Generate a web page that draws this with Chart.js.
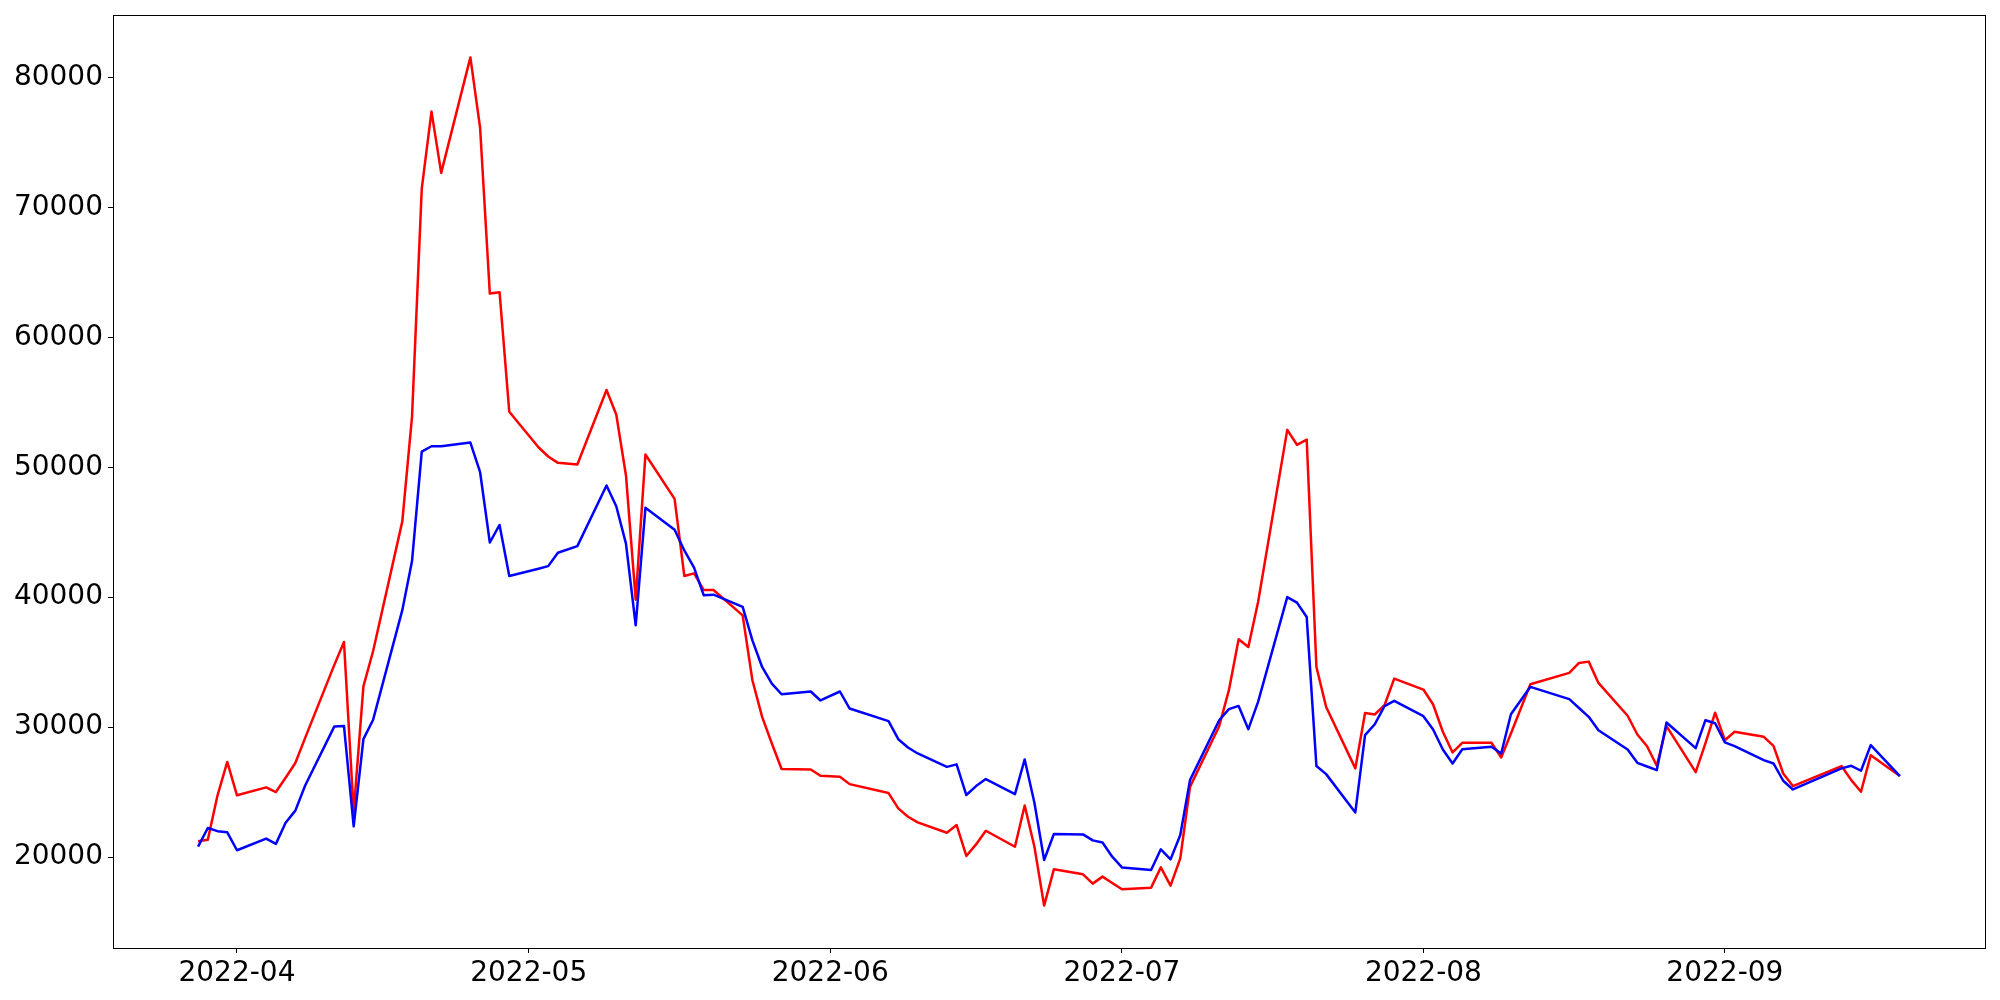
<!DOCTYPE html>
<html>
<head>
<meta charset="utf-8">
<script src="https://cdn.jsdelivr.net/npm/chart.js@4.4.1/dist/chart.umd.min.js"></script>
<style>
  html, body { margin: 0; padding: 0; background: #fff; }
  #wrap { width: 2000px; height: 1000px; }
</style>
</head>
<body>
<div id="wrap"><canvas id="chart" width="2000" height="1000"></canvas></div>
<script>
const dates = [
  '2022-03-28', '2022-03-29', '2022-03-30', '2022-03-31', '2022-04-01',
  '2022-04-04', '2022-04-05', '2022-04-06', '2022-04-07', '2022-04-08',
  '2022-04-11', '2022-04-12', '2022-04-13', '2022-04-14', '2022-04-15',
  '2022-04-18', '2022-04-19', '2022-04-20', '2022-04-21', '2022-04-22',
  '2022-04-25', '2022-04-26', '2022-04-27', '2022-04-28', '2022-04-29',
  '2022-05-02', '2022-05-03', '2022-05-04', '2022-05-06',
  '2022-05-09', '2022-05-10', '2022-05-11', '2022-05-12', '2022-05-13',
  '2022-05-16', '2022-05-17', '2022-05-18', '2022-05-19', '2022-05-20',
  '2022-05-23', '2022-05-24', '2022-05-25', '2022-05-26', '2022-05-27',
  '2022-05-30', '2022-05-31', '2022-06-02', '2022-06-03',
  '2022-06-07', '2022-06-08', '2022-06-09', '2022-06-10',
  '2022-06-13', '2022-06-14', '2022-06-15', '2022-06-16', '2022-06-17',
  '2022-06-20', '2022-06-21', '2022-06-22', '2022-06-23', '2022-06-24',
  '2022-06-27', '2022-06-28', '2022-06-29', '2022-06-30', '2022-07-01',
  '2022-07-04', '2022-07-05', '2022-07-06', '2022-07-07', '2022-07-08',
  '2022-07-11', '2022-07-12', '2022-07-13', '2022-07-14', '2022-07-15',
  '2022-07-18', '2022-07-19', '2022-07-20', '2022-07-21', '2022-07-22',
  '2022-07-25', '2022-07-26', '2022-07-27', '2022-07-28', '2022-07-29',
  '2022-08-01', '2022-08-02', '2022-08-03', '2022-08-04', '2022-08-05',
  '2022-08-08', '2022-08-09', '2022-08-10', '2022-08-12',
  '2022-08-16', '2022-08-17', '2022-08-18', '2022-08-19',
  '2022-08-22', '2022-08-23', '2022-08-24', '2022-08-25', '2022-08-26',
  '2022-08-29', '2022-08-30', '2022-08-31', '2022-09-01', '2022-09-02',
  '2022-09-05', '2022-09-06', '2022-09-07', '2022-09-08',
  '2022-09-13', '2022-09-14', '2022-09-15', '2022-09-16', '2022-09-19',
];

const redValues = [
  21210, 21330, 24750, 27320, 24750,
  25360, 25000, 26100, 27235, 29150,
  34770, 36556, 23450, 33140, 35860,
  45835, 53900, 71450, 77380, 72660,
  81550, 76120, 63370, 63480, 54270,
  51540, 50830, 50340, 50210,
  55950, 54060, 49370, 39810, 50980,
  47570, 41630, 41830, 40550, 40550,
  38600, 33610, 30790, 28740, 26770,
  26740, 26250, 26180, 25610,
  24920, 23740, 23100, 22670,
  21870, 22460, 20080, 20970, 22020,
  20790, 23970, 20790, 16260, 19050,
  18670, 17950, 18490, 18000, 17515,
  17640, 19200, 17800, 19900, 25400,
  30070, 32840, 36760, 36170, 39630,
  52880, 51730, 52130, 34630, 31550,
  26820, 31090, 30970, 31685, 33730,
  32890, 31740, 29640, 28050, 28790,
  28790, 27660, 29510, 33300,
  34170, 34940, 35040, 33400,
  30870, 29430, 28530, 27020, 30070,
  26530, 28750, 31110, 28990, 29640,
  29250, 28560, 26430, 25460,
  27000, 25920, 25020, 27840, 26230,
];

const blueValues = [
  20805, 22230, 21990, 21900, 20520,
  21415, 21010, 22640, 23570, 25485,
  30040, 30085, 22350, 29070, 30570,
  39000, 42780, 51210, 51620, 51620,
  51900, 49620, 44210, 45560, 41630,
  42190, 42390, 43420, 43930,
  48600, 47000, 44120, 37835, 46880,
  45190, 43600, 42270, 40140, 40190,
  39250, 36680, 34630, 33350, 32530,
  32740, 32050, 32740, 31430,
  30455, 29070, 28430, 27970,
  26940, 27130, 24770, 25460, 26000,
  24840, 27510, 24180, 19770, 21770,
  21740, 21280, 21120, 20025, 19200,
  19000, 20590, 19820, 21690, 25920,
  30530, 31380, 31630, 29840, 31940,
  40010, 39580, 38470, 27000, 26380,
  23430, 29380, 30220, 31610, 32020,
  30840, 29815, 28280, 27200, 28300,
  28480, 27970, 30990, 33100,
  32150, 31470, 30790, 29760,
  28280, 27250, 26970, 26690, 30350,
  28380, 30530, 30300, 28820, 28530,
  27460, 27200, 25870, 25200,
  26820, 27020, 26640, 28610, 26230,
];

const monthTicks = ['2022-04', '2022-05', '2022-06', '2022-07', '2022-08', '2022-09'];
const yTicks = [20000, 30000, 40000, 50000, 60000, 70000, 80000];

const DAY = 86400000;
const toDay = (s) => {
  const [y, m, d] = s.split('-').map(Number);
  return Date.UTC(y, m - 1, d || 1) / DAY;
};
const fmtMonth = (v) => {
  const dt = new Date(Math.round(v) * DAY);
  return dt.getUTCFullYear() + '-' + String(dt.getUTCMonth() + 1).padStart(2, '0');
};

const xs = dates.map(toDay);
const pts = (vals) => vals.map((v, i) => ({ x: xs[i], y: v }));

// matplotlib style 5% margins
const xMin = Math.min(...xs), xMax = Math.max(...xs);
const xPad = (xMax - xMin) * 0.05;
const allY = redValues.concat(blueValues);
const yMin = Math.min(...allY), yMax = Math.max(...allY);
const yPad = (yMax - yMin) * 0.05;

const frame = {
  id: 'frame',
  afterDraw(chart) {
    const { ctx, chartArea: a } = chart;
    ctx.save();
    ctx.strokeStyle = '#000';
    ctx.lineWidth = 1;
    ctx.strokeRect(Math.round(a.left) + 0.5, Math.round(a.top) + 0.5,
      Math.round(a.right - a.left), Math.round(a.bottom - a.top));
    ctx.restore();
  },
};

const tickFont = { family: 'DejaVu Sans', size: 28 };

new Chart(document.getElementById('chart'), {
  type: 'line',
  data: {
    datasets: [
      {
        label: 'red',
        data: pts(redValues),
        borderColor: '#ff0000',
        borderWidth: 2.5,
        pointRadius: 0,
        tension: 0,
        fill: false,
        borderJoinStyle: 'round',
        order: 1,
      },
      {
        label: 'blue',
        data: pts(blueValues),
        borderColor: '#0000ff',
        borderWidth: 2.5,
        pointRadius: 0,
        tension: 0,
        fill: false,
        borderJoinStyle: 'round',
        order: 0,
      },
    ],
  },
  options: {
    responsive: false,
    animation: false,
    events: [],
    layout: { padding: { top: 15, right: 15, left: 0, bottom: 0 } },
    scales: {
      x: {
        type: 'linear',
        min: xMin - xPad,
        max: xMax + xPad,
        afterBuildTicks(scale) {
          scale.ticks = monthTicks.map((m) => ({ value: toDay(m + '-01') }));
        },
        afterFit(scale) {
          scale.height = 52;
          scale.paddingLeft = 0;
          scale.paddingRight = 0;
        },
        ticks: {
          callback: (v) => fmtMonth(v),
          font: tickFont,
          color: '#000',
          padding: 4,
          maxRotation: 0,
          autoSkip: false,
        },
        grid: { drawOnChartArea: false, tickLength: 5, tickColor: '#000', tickWidth: 1 },
        border: { display: true, color: '#000', width: 1 },
      },
      y: {
        type: 'linear',
        min: yMin - yPad,
        max: yMax + yPad,
        afterBuildTicks(scale) {
          scale.ticks = yTicks.map((v) => ({ value: v }));
        },
        afterFit(scale) {
          scale.width = 113;
          scale.paddingTop = 0;
          scale.paddingBottom = 0;
        },
        ticks: {
          callback: (v) => String(v),
          font: tickFont,
          color: '#000',
          padding: 5,
        },
        grid: { drawOnChartArea: false, tickLength: 5, tickColor: '#000', tickWidth: 1 },
        border: { display: true, color: '#000', width: 1 },
      },
    },
    plugins: {
      legend: { display: false },
      tooltip: { enabled: false },
    },
  },
  plugins: [frame],
});
</script>
</body>
</html>
